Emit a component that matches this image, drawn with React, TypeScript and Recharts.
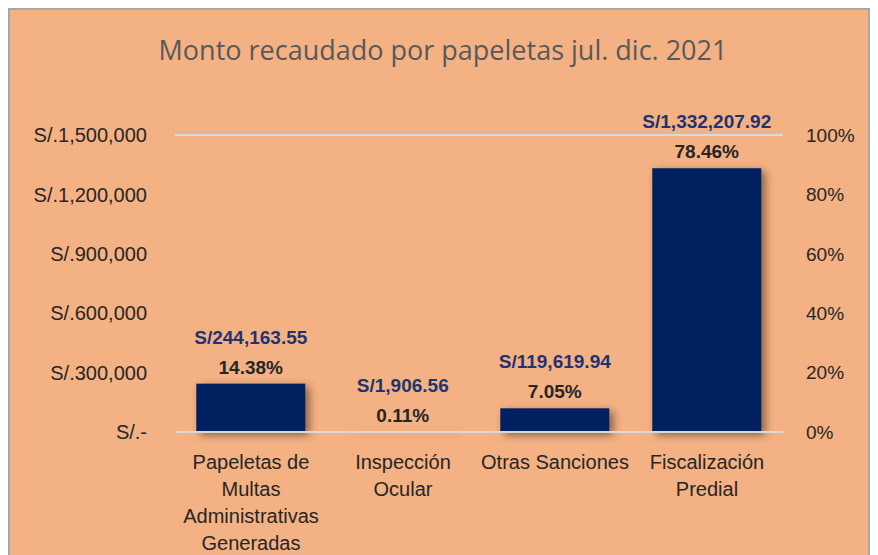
import { ComposedChart, Bar, Line, XAxis, YAxis, CartesianGrid, LabelList } from 'recharts';

const categories = ['Papeletas de Multas Administrativas Generadas', 'Inspección Ocular', 'Otras Sanciones', 'Fiscalización Predial'];
const categoryLines = [
  ['Papeletas de', 'Multas', 'Administrativas', 'Generadas'],
  ['Inspección', 'Ocular'],
  ['Otras Sanciones'],
  ['Fiscalización', 'Predial'],
];
const amounts = [244163.55, 1906.56, 119619.94, 1332207.92];
const shares = [14.38, 0.11, 7.05, 78.46];
const leftTicks = [0, 300000, 600000, 900000, 1200000, 1500000];
const rightTicks = [0, 20, 40, 60, 80, 100];

const data = categories.map((name, i) => ({ name, monto: amounts[i], share: shares[i] }));

const FONT = '"Liberation Sans", Arial, sans-serif';

const money = (v: number) => 'S/' + v.toLocaleString('en-US', { minimumFractionDigits: 2, maximumFractionDigits: 2 });
const leftFmt = (v: number) => (v === 0 ? 'S/.-' : 'S/.' + v.toLocaleString('en-US'));

const CategoryTick = ({ x, y, payload, index }: any) => {
  const lines = categoryLines[index] || [payload.value];
  return (
    <text x={x} y={y + 29} textAnchor="middle" fill="#262626" fontSize={20} fontFamily={FONT}>
      {lines.map((l, i) => (
        <tspan key={i} x={x} dy={i === 0 ? 0 : 27}>{l}</tspan>
      ))}
    </text>
  );
};

const BarLabels = ({ x, y, width, index }: any) => {
  const cx = x + width / 2;
  return (
    <g fontFamily={FONT} fontWeight="bold" fontSize={19} textAnchor="middle">
      <text x={cx} y={y - 40} fill="#1F3470">{money(amounts[index])}</text>
      <text x={cx} y={y - 10} fill="#262626">{shares[index].toFixed(2) + '%'}</text>
    </g>
  );
};

const ShadowBar = ({ x, y, width, height, fill }: any) => (
  <rect x={x} y={y} width={width} height={Math.max(height, 0)} fill={fill}
    style={{ filter: 'drop-shadow(4px 3px 4px rgba(0,0,0,0.45))' }} />
);

export default function App() {
  return (
    <div style={{ position: 'relative', width: 858, height: 560, background: '#F4B183', border: '2px solid #A6A6A6' }}>
      <div style={{ position: 'absolute', top: 21, left: 0, width: 866, textAlign: 'center', fontFamily: '"Open Sans", sans-serif', fontSize: 27, color: '#595959' }}>
        Monto recaudado por papeletas jul. dic. 2021
      </div>
      <ComposedChart width={858} height={548} data={data} margin={{ top: 125, right: 15, left: 0, bottom: 0 }} barCategoryGap="14%">
        <CartesianGrid vertical={false} stroke="#D9D9D9" strokeWidth={2} />
        <XAxis dataKey="name" height={126} tickLine={false} axisLine={{ stroke: '#D9D9D9', strokeWidth: 2 }} tick={<CategoryTick />} interval={0} />
        <YAxis yAxisId="left" width={165} domain={[0, 1500000]} ticks={leftTicks} tickFormatter={leftFmt}
          tickLine={false} axisLine={false} tickSize={0} tickMargin={28}
          tick={{ fill: '#262626', fontSize: 20, fontFamily: FONT }} />
        <YAxis yAxisId="right" orientation="right" width={70} domain={[0, 100]} ticks={rightTicks} tickFormatter={(v: number) => v + '%'}
          tickLine={false} axisLine={false} tickSize={0} tickMargin={23}
          tick={{ fill: '#262626', fontSize: 19, fontFamily: FONT }} />
        <Bar yAxisId="left" dataKey="monto" fill="#002060" isAnimationActive={false} shape={<ShadowBar />}>
          <LabelList dataKey="monto" content={<BarLabels />} />
        </Bar>
        <Line yAxisId="right" dataKey="share" stroke="none" strokeOpacity={0} dot={false} activeDot={false} legendType="none" isAnimationActive={false} />
      </ComposedChart>
    </div>
  );
}
